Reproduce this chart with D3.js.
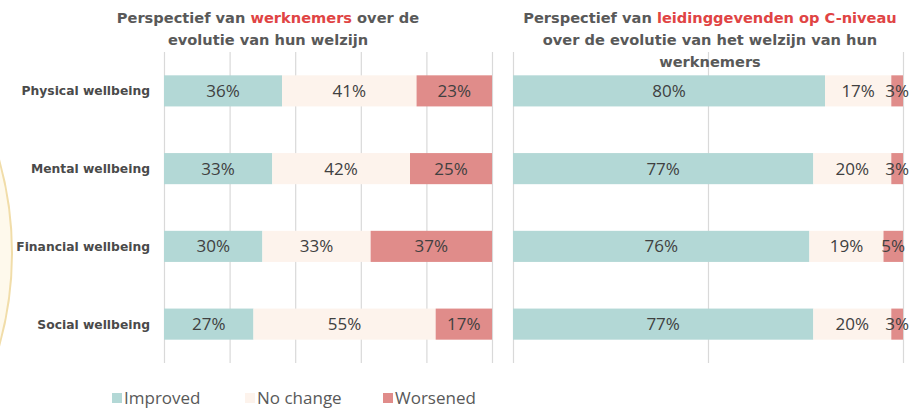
<!DOCTYPE html>
<html>
<head>
<meta charset="utf-8">
<script src="https://cdn.jsdelivr.net/npm/d3@7"></script>
<style>
  body { margin: 0; background: #fff; }
  svg { display: block; }
  .title { font-family: "DejaVu Sans", Verdana, sans-serif; font-weight: bold; font-size: 14.6px; fill: #595959; }
  .title .hl { fill: #e04444; }
  .cat { font-family: "DejaVu Sans", Verdana, sans-serif; font-weight: bold; font-size: 12.3px; fill: #4a4a4a; }
  .val { font-family: "Open Sans", sans-serif; font-size: 17px; fill: #404040; }
  .legend text { font-family: "Open Sans", sans-serif; font-size: 17px; fill: #595959; }
</style>
</head>
<body>
<script>
var width = 915, height = 409;

var categories = ["Physical wellbeing", "Mental wellbeing", "Financial wellbeing", "Social wellbeing"];
var seriesKeys = ["Improved", "No change", "Worsened"];
var colors = ["#b3d8d6", "#fdf3ec", "#e08c8a"];

// werknemers
var employeeImproved = [36, 33, 30, 27];
var employeeNoChange = [41, 42, 33, 55];
var employeeWorsened = [23, 25, 37, 17];

// leidinggevenden op C-niveau
var executiveImproved = [80, 77, 76, 77];
var executiveNoChange = [17, 20, 19, 20];
var executiveWorsened = [3, 3, 5, 3];

var employeeTicks = [0, 0.2, 0.4, 0.6, 0.8, 1];
var executiveTicks = [0, 0.5, 1];

function buildRows(a, b, c) {
  return categories.map(function(cat, i) {
    return { category: cat, "Improved": a[i], "No change": b[i], "Worsened": c[i] };
  });
}

var svg = d3.select("body").append("svg")
  .attr("width", width)
  .attr("height", height);

// decorative circle on the left edge
svg.append("circle")
  .attr("cx", -331)
  .attr("cy", 253)
  .attr("r", 343)
  .attr("fill", "#fef9ec")
  .attr("stroke", "#f1dda9")
  .attr("stroke-width", 2);

var y = d3.scaleBand()
  .domain(categories)
  .range([52, 363])
  .paddingInner(0.6)
  .paddingOuter(0.3);

var color = d3.scaleOrdinal().domain(seriesKeys).range(colors);

var stack = d3.stack().keys(seriesKeys).offset(d3.stackOffsetExpand);

function drawPanel(rows, range, ticks) {
  var x = d3.scaleLinear().domain([0, 1]).range(range);
  var g = svg.append("g");

  // vertical gridlines
  g.append("g")
    .attr("transform", "translate(0," + 52 + ")")
    .call(d3.axisTop(x).tickValues(ticks).tickSize(-(363 - 52)).tickFormat(""))
    .call(function(a) {
      a.select(".domain").remove();
      a.selectAll(".tick line").attr("stroke", "#d9d9d9").attr("stroke-width", 1.2);
    });

  var layers = g.selectAll(".layer")
    .data(stack(rows))
    .enter().append("g")
    .attr("class", "layer")
    .attr("fill", function(d) { return color(d.key); });

  layers.selectAll("rect")
    .data(function(d) { return d; })
    .enter().append("rect")
    .attr("x", function(d) { return x(d[0]); })
    .attr("y", function(d) { return y(d.data.category); })
    .attr("width", function(d) { return x(d[1]) - x(d[0]); })
    .attr("height", y.bandwidth());

  layers.selectAll("text")
    .data(function(d) { return d.map(function(p) { p.key = d.key; return p; }); })
    .enter().append("text")
    .attr("class", "val")
    .attr("x", function(d) { return (x(d[0]) + x(d[1])) / 2; })
    .attr("y", function(d) { return y(d.data.category) + y.bandwidth() / 2; })
    .attr("dy", "0.36em")
    .attr("text-anchor", "middle")
    .text(function(d) { return d.data[d.key] + "%"; });
}

drawPanel(buildRows(employeeImproved, employeeNoChange, employeeWorsened), [164, 492], employeeTicks);
drawPanel(buildRows(executiveImproved, executiveNoChange, executiveWorsened), [513, 903], executiveTicks);

// category labels
svg.append("g").selectAll("text")
  .data(categories)
  .enter().append("text")
  .attr("class", "cat")
  .attr("x", 150)
  .attr("y", function(d) { return y(d) + y.bandwidth() / 2; })
  .attr("dy", "0.36em")
  .attr("text-anchor", "end")
  .text(function(d) { return d; });

// titles
function addTitle(cx, lines) {
  var t = svg.append("text").attr("class", "title").attr("text-anchor", "middle");
  lines.forEach(function(parts, i) {
    var line = t.append("tspan").attr("x", cx).attr("y", 23 + i * 22);
    parts.forEach(function(p) {
      line.append("tspan").classed("hl", p[1]).text(p[0]);
    });
  });
}

addTitle(268, [
  [["Perspectief van ", false], ["werknemers", true], [" over de", false]],
  [["evolutie van hun welzijn", false]]
]);
addTitle(710, [
  [["Perspectief van ", false], ["leidinggevenden op C-niveau", true]],
  [["over de evolutie van het welzijn van hun", false]],
  [["werknemers", false]]
]);

// legend
var legendX = [112, 245, 383];
var legend = svg.append("g").attr("class", "legend");
var items = legend.selectAll("g")
  .data(seriesKeys)
  .enter().append("g")
  .attr("transform", function(d, i) { return "translate(" + legendX[i] + ",393)"; });
items.append("rect")
  .attr("width", 10)
  .attr("height", 10)
  .attr("fill", function(d) { return color(d); });
items.append("text")
  .attr("x", 12)
  .attr("y", 5)
  .attr("dy", "0.36em")
  .text(function(d) { return d; });
</script>
</body>
</html>
